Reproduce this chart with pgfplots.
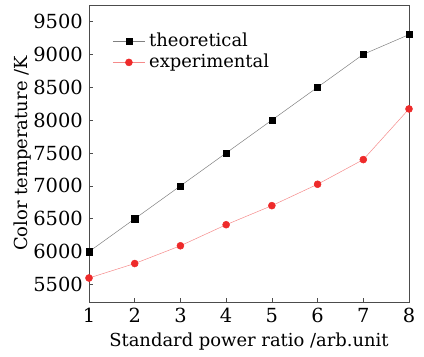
\documentclass[border=0pt]{standalone}
\usepackage{pgfplots}
\pgfplotsset{compat=1.18}
\usepackage{fontspec}
\setmainfont{DejaVu Serif}
\definecolor{redm}{HTML}{EE2A2A}
\definecolor{redl}{HTML}{F58A8A}
\begin{document}
\fontsize{18}{21}\selectfont
\begin{tikzpicture}
\begin{axis}[
  scale only axis,
  width=320bp, height=297bp,
  xmin=1, xmax=8, ymin=5235, ymax=9750,
  xtick={1,...,8},
  ytick={5500,6000,...,9500},
  tick align=inside,
  major tick length=4bp,
  xtick pos=bottom, ytick pos=left,
  xticklabel={\pgfmathprintnumber[assume math mode=true]{\tick}},
  yticklabel={\pgfmathprintnumber[assume math mode=true,1000 sep={}]{\tick}},
  tick label style={font=\fontsize{19.5}{22}\selectfont},
  label style={font=\fontsize{18}{21}\selectfont},
  xlabel={Standard power ratio /arb.unit},
  ylabel={Color temperature /K},
  xlabel style={at={(rel axis cs:0.5,0)}, anchor=base, yshift=-44.7bp},
  ylabel style={at={(rel axis cs:0,0.5)}, anchor=base, yshift=61.5bp},
  axis line style={draw=black!70, line width=0.6pt},
  every tick/.style={black!70, line width=0.6pt},
  clip=false,
  legend style={at={(0.064,0.92)}, anchor=north west, draw=none, fill=none,
    font=\fontsize{18}{21}\selectfont, row sep=1bp,
    nodes={inner xsep=4bp}},
  legend cell align=left,
  legend image code/.code={\draw[mark repeat=2,mark phase=2] plot coordinates {(0bp,0bp)(16bp,0bp)(32bp,0bp)};},
]
\addplot[gray, line width=0.5pt, mark=square*, mark size=3.1bp, mark options={fill=black, draw=black}]
 coordinates {(1,6000)(2,6500)(3,7000)(4,7500)(5,8000)(6,8500)(7,9000)(8,9300)};
\addlegendentry{theoretical}
\addplot[redl, line width=0.5pt, mark=*, mark size=3.5bp, mark options={fill=redm, draw=redm}]
 coordinates {(1,5600)(2,5820)(3,6090)(4,6410)(5,6700)(6,7025)(7,7400)(8,8170)};
\addlegendentry{experimental}
\path (rel axis cs:1,1) ++(15bp,5bp);
\path (rel axis cs:0,0) ++(-89bp,-51bp);
\end{axis}
\end{tikzpicture}
\end{document}
